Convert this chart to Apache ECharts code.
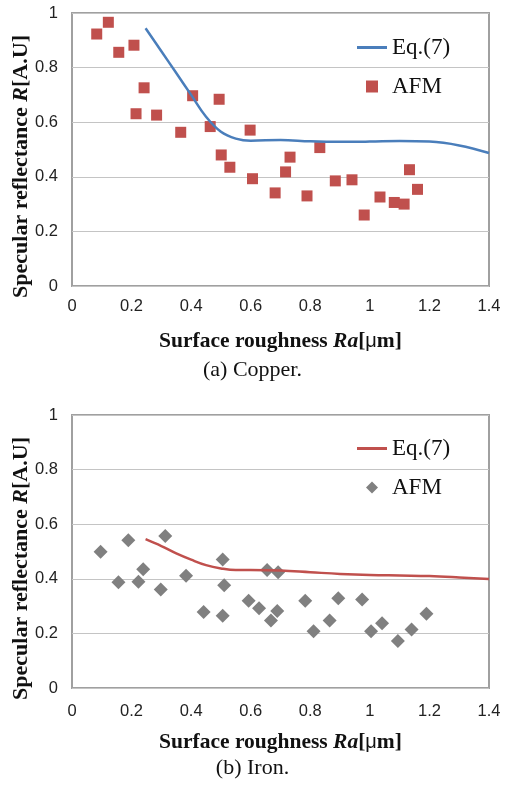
<!DOCTYPE html>
<html>
<head>
<meta charset="utf-8">
<title>Specular reflectance vs surface roughness</title>
<script src="https://cdn.jsdelivr.net/npm/echarts@6/dist/echarts.min.js"></script>
<style>
  html, body { margin: 0; padding: 0; background: #fff; }
  #main { width: 505px; height: 786px; }
</style>
</head>
<body>
<div id="main"></div>
<script>
// x ticks shared by both panels
var xTicks = [0, 0.2, 0.4, 0.6, 0.8, 1, 1.2, 1.4];

// (a) Copper - AFM measurements
var cuAfmX = [0.083, 0.122, 0.157, 0.208, 0.242, 0.215, 0.284, 0.365, 0.405, 0.464, 0.494, 0.501, 0.530, 0.598,
              0.606, 0.682, 0.717, 0.732, 0.789, 0.832, 0.884, 0.940, 0.981, 1.034, 1.082, 1.115, 1.133, 1.160];
var cuAfmY = [0.923, 0.966, 0.856, 0.882, 0.726, 0.631, 0.626, 0.563, 0.697, 0.584, 0.684, 0.480, 0.435, 0.571,
              0.393, 0.341, 0.418, 0.472, 0.330, 0.507, 0.385, 0.389, 0.260, 0.326, 0.306, 0.300, 0.426, 0.354];
// (a) Copper - Eq.(7)
var cuEqX = [0.247, 0.30, 0.35, 0.40, 0.45, 0.50, 0.55, 0.60, 0.70, 0.80, 0.90, 1.0, 1.1, 1.2, 1.3, 1.4];
var cuEqY = [0.944, 0.86, 0.78, 0.70, 0.62, 0.565, 0.54, 0.532, 0.535, 0.53, 0.528, 0.529, 0.531, 0.529, 0.515, 0.487];

// (b) Iron - AFM measurements
var feAfmX = [0.096, 0.156, 0.189, 0.223, 0.239, 0.298, 0.313, 0.383, 0.442, 0.506, 0.511, 0.506, 0.593, 0.628,
              0.655, 0.689, 0.668, 0.692, 0.783, 0.811, 0.865, 0.894, 0.974, 1.004, 1.041, 1.094, 1.140, 1.190];
var feAfmY = [0.499, 0.387, 0.541, 0.389, 0.435, 0.361, 0.557, 0.411, 0.278, 0.471, 0.376, 0.265, 0.320, 0.292,
              0.432, 0.282, 0.247, 0.424, 0.320, 0.208, 0.247, 0.329, 0.324, 0.208, 0.237, 0.172, 0.214, 0.272];
// (b) Iron - Eq.(7)
var feEqX = [0.247, 0.30, 0.35, 0.40, 0.45, 0.50, 0.55, 0.60, 0.70, 0.80, 0.90, 1.0, 1.1, 1.2, 1.3, 1.4];
var feEqY = [0.545, 0.52, 0.493, 0.47, 0.45, 0.438, 0.432, 0.432, 0.43, 0.424, 0.418, 0.414, 0.412, 0.41, 0.405, 0.399];

function pairs(xs, ys) {
    var res = [];
    for (var i = 0; i < xs.length; i++) {
        res.push([xs[i], ys[i]]);
    }
    return res;
}

var serif = 'Liberation Serif';
var sans = 'Liberation Sans';

// legend icons (paths keep their aspect inside the legend box)
var lineIcon = 'path://M0,0L30,0L30,3L0,3Z';
var squareIcon = 'path://M0,0L10,0L10,10L0,10Z';
var diamondIcon = 'path://M5,0L10,5L5,10L0,5Z';

function xAxisFor(idx) {
    return {
        type: 'value', gridIndex: idx,
        min: xTicks[0], max: xTicks[xTicks.length - 1], interval: 0.2,
        axisLine: { show: false }, axisTick: { show: false }, splitLine: { show: false },
        axisLabel: { fontFamily: sans, fontSize: 16.5, color: '#222', margin: idx === 0 ? 12 : 15 },
        name: '{b|Surface roughness }{i|Ra}{b|[}{u|μ}{b|m]}',
        nameLocation: 'middle', nameGap: idx === 0 ? 44 : 43, nameMoveOverlap: false,
        nameTextStyle: {
            rich: {
                b: { fontFamily: serif, fontWeight: 'bold', fontSize: 21.5, color: '#111' },
                i: { fontFamily: serif, fontWeight: 'bold', fontStyle: 'italic', fontSize: 21.5, color: '#111' },
                u: { fontFamily: sans, fontSize: 20, color: '#111' }
            }
        }
    };
}

function yAxisFor(idx) {
    return {
        type: 'value', gridIndex: idx, min: 0, max: 1, interval: 0.2,
        axisLine: { show: false }, axisTick: { show: false },
        splitLine: { lineStyle: { color: '#c4c4c4', width: 1 } },
        axisLabel: { fontFamily: sans, fontSize: 16.5, color: '#222', margin: 14 },
        name: '{b|Specular reflectance }{i|R}{b|[A.U]}',
        nameLocation: 'middle', nameGap: 40, nameRotate: 90, nameMoveOverlap: false,
        nameTextStyle: {
            padding: [0, 34, 0, 0],
            rich: {
                b: { fontFamily: serif, fontWeight: 'bold', fontSize: 22, color: '#111' },
                i: { fontFamily: serif, fontWeight: 'bold', fontStyle: 'italic', fontSize: 22, color: '#111' }
            }
        }
    };
}

function legendFor(top, names) {
    return {
        left: 352, top: top, orient: 'vertical',
        itemWidth: 30, itemHeight: 12, itemGap: 16,
        textStyle: { fontFamily: serif, fontSize: 23, color: '#111' },
        data: names
    };
}

var myChart = echarts.init(document.getElementById('main'));

var option = {
    backgroundColor: '#fff',
    animation: false,
    grid: [
        { left: 72, top: 13, width: 417, height: 273, show: true, borderColor: '#a0a0a0', borderWidth: 2,
          outerBoundsMode: 'none' },
        { left: 72, top: 415, width: 417, height: 273, show: true, borderColor: '#a0a0a0', borderWidth: 2,
          outerBoundsMode: 'none' }
    ],
    xAxis: [xAxisFor(0), xAxisFor(1)],
    yAxis: [yAxisFor(0), yAxisFor(1)],
    legend: [
        legendFor(31, [{ name: 'Eq.(7)', icon: lineIcon }, { name: 'AFM', icon: squareIcon }]),
        legendFor(432, [{ name: 'Eq.(7) ', icon: lineIcon }, { name: 'AFM ', icon: diamondIcon }])
    ],
    graphic: [
        { type: 'text', left: 'center', top: 359,
          style: { text: '(a) Copper.', fontFamily: serif, fontSize: 22, fill: '#111' } },
        { type: 'text', left: 'center', top: 757,
          style: { text: '(b) Iron.', fontFamily: serif, fontSize: 22, fill: '#111' } }
    ],
    series: [
        {
            name: 'Eq.(7)', type: 'line', xAxisIndex: 0, yAxisIndex: 0,
            data: pairs(cuEqX, cuEqY), smooth: 0.4, symbol: 'none',
            itemStyle: { color: '#4a7ebb' }, lineStyle: { color: '#4a7ebb', width: 2.5 }
        },
        {
            name: 'AFM', type: 'scatter', xAxisIndex: 0, yAxisIndex: 0,
            data: pairs(cuAfmX, cuAfmY), symbol: 'rect', symbolSize: 11,
            itemStyle: { color: '#c0504d', opacity: 1 }
        },
        {
            name: 'Eq.(7) ', type: 'line', xAxisIndex: 1, yAxisIndex: 1,
            data: pairs(feEqX, feEqY), smooth: 0.4, symbol: 'none',
            itemStyle: { color: '#c0504d' }, lineStyle: { color: '#c0504d', width: 2.5 }
        },
        {
            name: 'AFM ', type: 'scatter', xAxisIndex: 1, yAxisIndex: 1,
            data: pairs(feAfmX, feAfmY), symbol: 'diamond', symbolSize: 14,
            itemStyle: { color: '#808080', opacity: 1 }
        }
    ]
};

myChart.setOption(option);
</script>
</body>
</html>
